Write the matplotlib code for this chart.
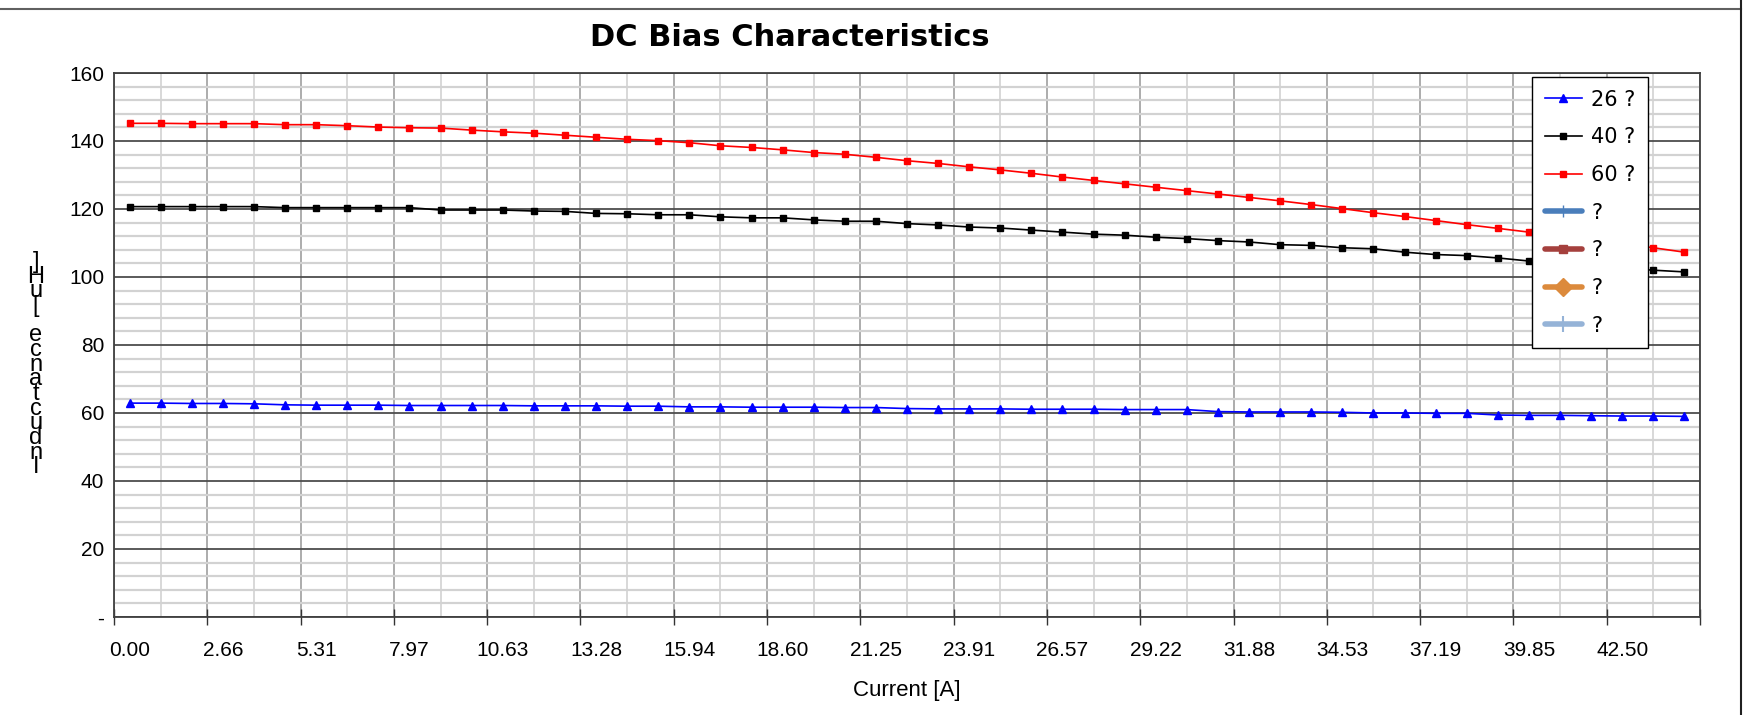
import numpy as np
import matplotlib
matplotlib.use("Agg")
import matplotlib.pyplot as plt
from matplotlib import font_manager
from matplotlib.lines import Line2D

# x categories (current in A), only every third one is labelled
current_labels = ["0.00", "2.66", "5.31", "7.97", "10.63", "13.28", "15.94", "18.60", "21.25",
                  "23.91", "26.57", "29.22", "31.88", "34.53", "37.19", "39.85", "42.50"]

# inductance [uH] per series
ind_26 = [62.9, 62.9, 62.8, 62.8, 62.7, 62.4, 62.3, 62.3, 62.3, 62.2,
          62.2, 62.2, 62.2, 62.1, 62.1, 62.1, 62.0, 62.0, 61.8, 61.8,
          61.7, 61.7, 61.7, 61.6, 61.6, 61.3, 61.2, 61.2, 61.2, 61.1,
          61.1, 61.1, 61.0, 61.0, 61.0, 60.4, 60.3, 60.3, 60.3, 60.2,
          60.0, 60.0, 59.9, 59.9, 59.4, 59.3, 59.3, 59.2, 59.1, 59.1, 59.0]
ind_40 = [120.7, 120.7, 120.7, 120.7, 120.7, 120.4, 120.4, 120.4, 120.4, 120.4,
          119.7, 119.7, 119.7, 119.4, 119.3, 118.7, 118.6, 118.3, 118.3, 117.7,
          117.4, 117.4, 116.8, 116.4, 116.4, 115.7, 115.3, 114.7, 114.4, 113.8,
          113.2, 112.6, 112.3, 111.7, 111.3, 110.7, 110.3, 109.5, 109.3, 108.6,
          108.3, 107.3, 106.6, 106.3, 105.6, 104.7, 104.0, 103.3, 102.6, 102.0, 101.5]
ind_60 = [145.2, 145.2, 145.1, 145.1, 145.1, 144.8, 144.8, 144.5, 144.1, 143.9,
          143.8, 143.2, 142.7, 142.3, 141.7, 141.1, 140.5, 140.1, 139.5, 138.6,
          138.1, 137.4, 136.6, 136.1, 135.2, 134.2, 133.4, 132.4, 131.5, 130.5,
          129.4, 128.4, 127.4, 126.4, 125.4, 124.4, 123.4, 122.4, 121.3, 120.1,
          118.9, 117.8, 116.6, 115.4, 114.3, 113.2, 112.1, 110.9, 109.8, 108.6, 107.3]

series_names = ["26 ?", "40 ?", "60 ?"]
empty_names = ["?", "?", "?", "?"]  # series without data, only in the legend

y_ticks = [0, 20, 40, 60, 80, 100, 120, 140, 160]
y_tick_labels = ["-", "20", "40", "60", "80", "100", "120", "140", "160"]

# pick a narrow font if there is one
names = {f.name for f in font_manager.fontManager.ttflist}
narrow = "Liberation Sans Narrow" if "Liberation Sans Narrow" in names else "Liberation Sans"
plt.rcParams["font.family"] = [narrow, "DejaVu Sans"]

fig = plt.figure(figsize=(17.52, 7.15), dpi=100)
ax = fig.add_axes([0.0651, 0.1371, 0.9052, 0.7608])

n = len(ind_60)
x = np.arange(n)

ax.plot(x, ind_26, color="#0000ff", lw=1.2, marker="^", ms=6, label=series_names[0], zorder=5)
ax.plot(x, ind_40, color="#000000", lw=1.2, marker="s", ms=5, label=series_names[1], zorder=5)
ax.plot(x, ind_60, color="#ff0000", lw=1.2, marker="s", ms=5, label=series_names[2], zorder=5)

# empty series, as in the original sheet
ax.plot([], [], color="#4a7ebb", lw=4, marker="|", ms=8, solid_capstyle="round", label=empty_names[0])
ax.plot([], [], color="#a5403d", lw=4, marker="s", ms=6, solid_capstyle="round", label=empty_names[1])
ax.plot([], [], color="#dc8a3c", lw=4, marker="D", ms=9, solid_capstyle="round", label=empty_names[2])
ax.plot([], [], color="#95b3d7", lw=4, marker="|", ms=12, mew=1.5, solid_capstyle="round", label=empty_names[3])

ax.set_xlim(-0.5, n - 0.5)
ax.set_ylim(0, 160)

# y axis
ax.set_yticks(y_ticks)
ax.set_yticklabels(y_tick_labels, fontsize=15)
ax.set_yticks(np.arange(0, 161, 4), minor=True)
ax.tick_params(axis="y", which="both", length=0, pad=7)
ax.grid(axis="y", which="major", color="#4d4d4d", lw=1.3)
ax.grid(axis="y", which="minor", color="#d2d2d2", lw=1.6)

# x axis: ticks between groups of three categories, light line in the middle
ax.set_xticks(np.arange(-0.5, n, 3))
ax.set_xticklabels([])
ax.set_xticks(np.arange(1, n, 3), minor=True)
ax.tick_params(axis="x", which="major", direction="inout", length=12, width=1, color="#333333")
ax.tick_params(axis="x", which="minor", length=0)
ax.grid(axis="x", which="major", color="#a6a6a6", lw=1.3)
ax.grid(axis="x", which="minor", color="#d6d6d6", lw=1.3)
ax.set_axisbelow(True)

sec = ax.secondary_xaxis("bottom")
sec.set_xticks(np.arange(0, n, 3))
sec.set_xticklabels(current_labels, fontsize=15)
sec.tick_params(length=0, pad=17)
sec.spines["bottom"].set_visible(False)

for s in ax.spines.values():
    s.set_color("#404040")
    s.set_linewidth(1.3)

ax.set_xlabel("Current [A]", fontsize=16, labelpad=36)

# y label comes out as stacked, reversed letters in the original
ylab = "Inductance [uH]"
fig.text(0.0205, 0.49, "\n".join(reversed(ylab)), fontsize=17, ha="center", va="center",
         linespacing=0.57, ma="center")

fig.text(0.451, 0.948, "DC Bias Characteristics", fontsize=22, fontweight="bold",
         ha="center", va="center", family="DejaVu Sans")

leg = ax.legend(loc="upper left", bbox_to_anchor=(1532 / 1752, 1 - 77 / 715),
                bbox_transform=fig.transFigure, fancybox=False, framealpha=1,
                edgecolor="#000000", numpoints=1, handlelength=1.8,
                handletextpad=0.45, labelspacing=0.85, borderpad=0.6, borderaxespad=0,
                prop={"family": "DejaVu Sans", "size": 15})
leg.get_frame().set_linewidth(1.0)
leg.set_zorder(10)

# outer frame lines of the sheet export
fig.add_artist(Line2D([0, 1741 / 1752], [1 - 9 / 715, 1 - 9 / 715], color="#606060", lw=1.5,
                      transform=fig.transFigure))
fig.add_artist(Line2D([1741 / 1752, 1741 / 1752], [0, 1], color="#202020", lw=1.5,
                      transform=fig.transFigure))

fig.savefig("out.png", dpi=100)
